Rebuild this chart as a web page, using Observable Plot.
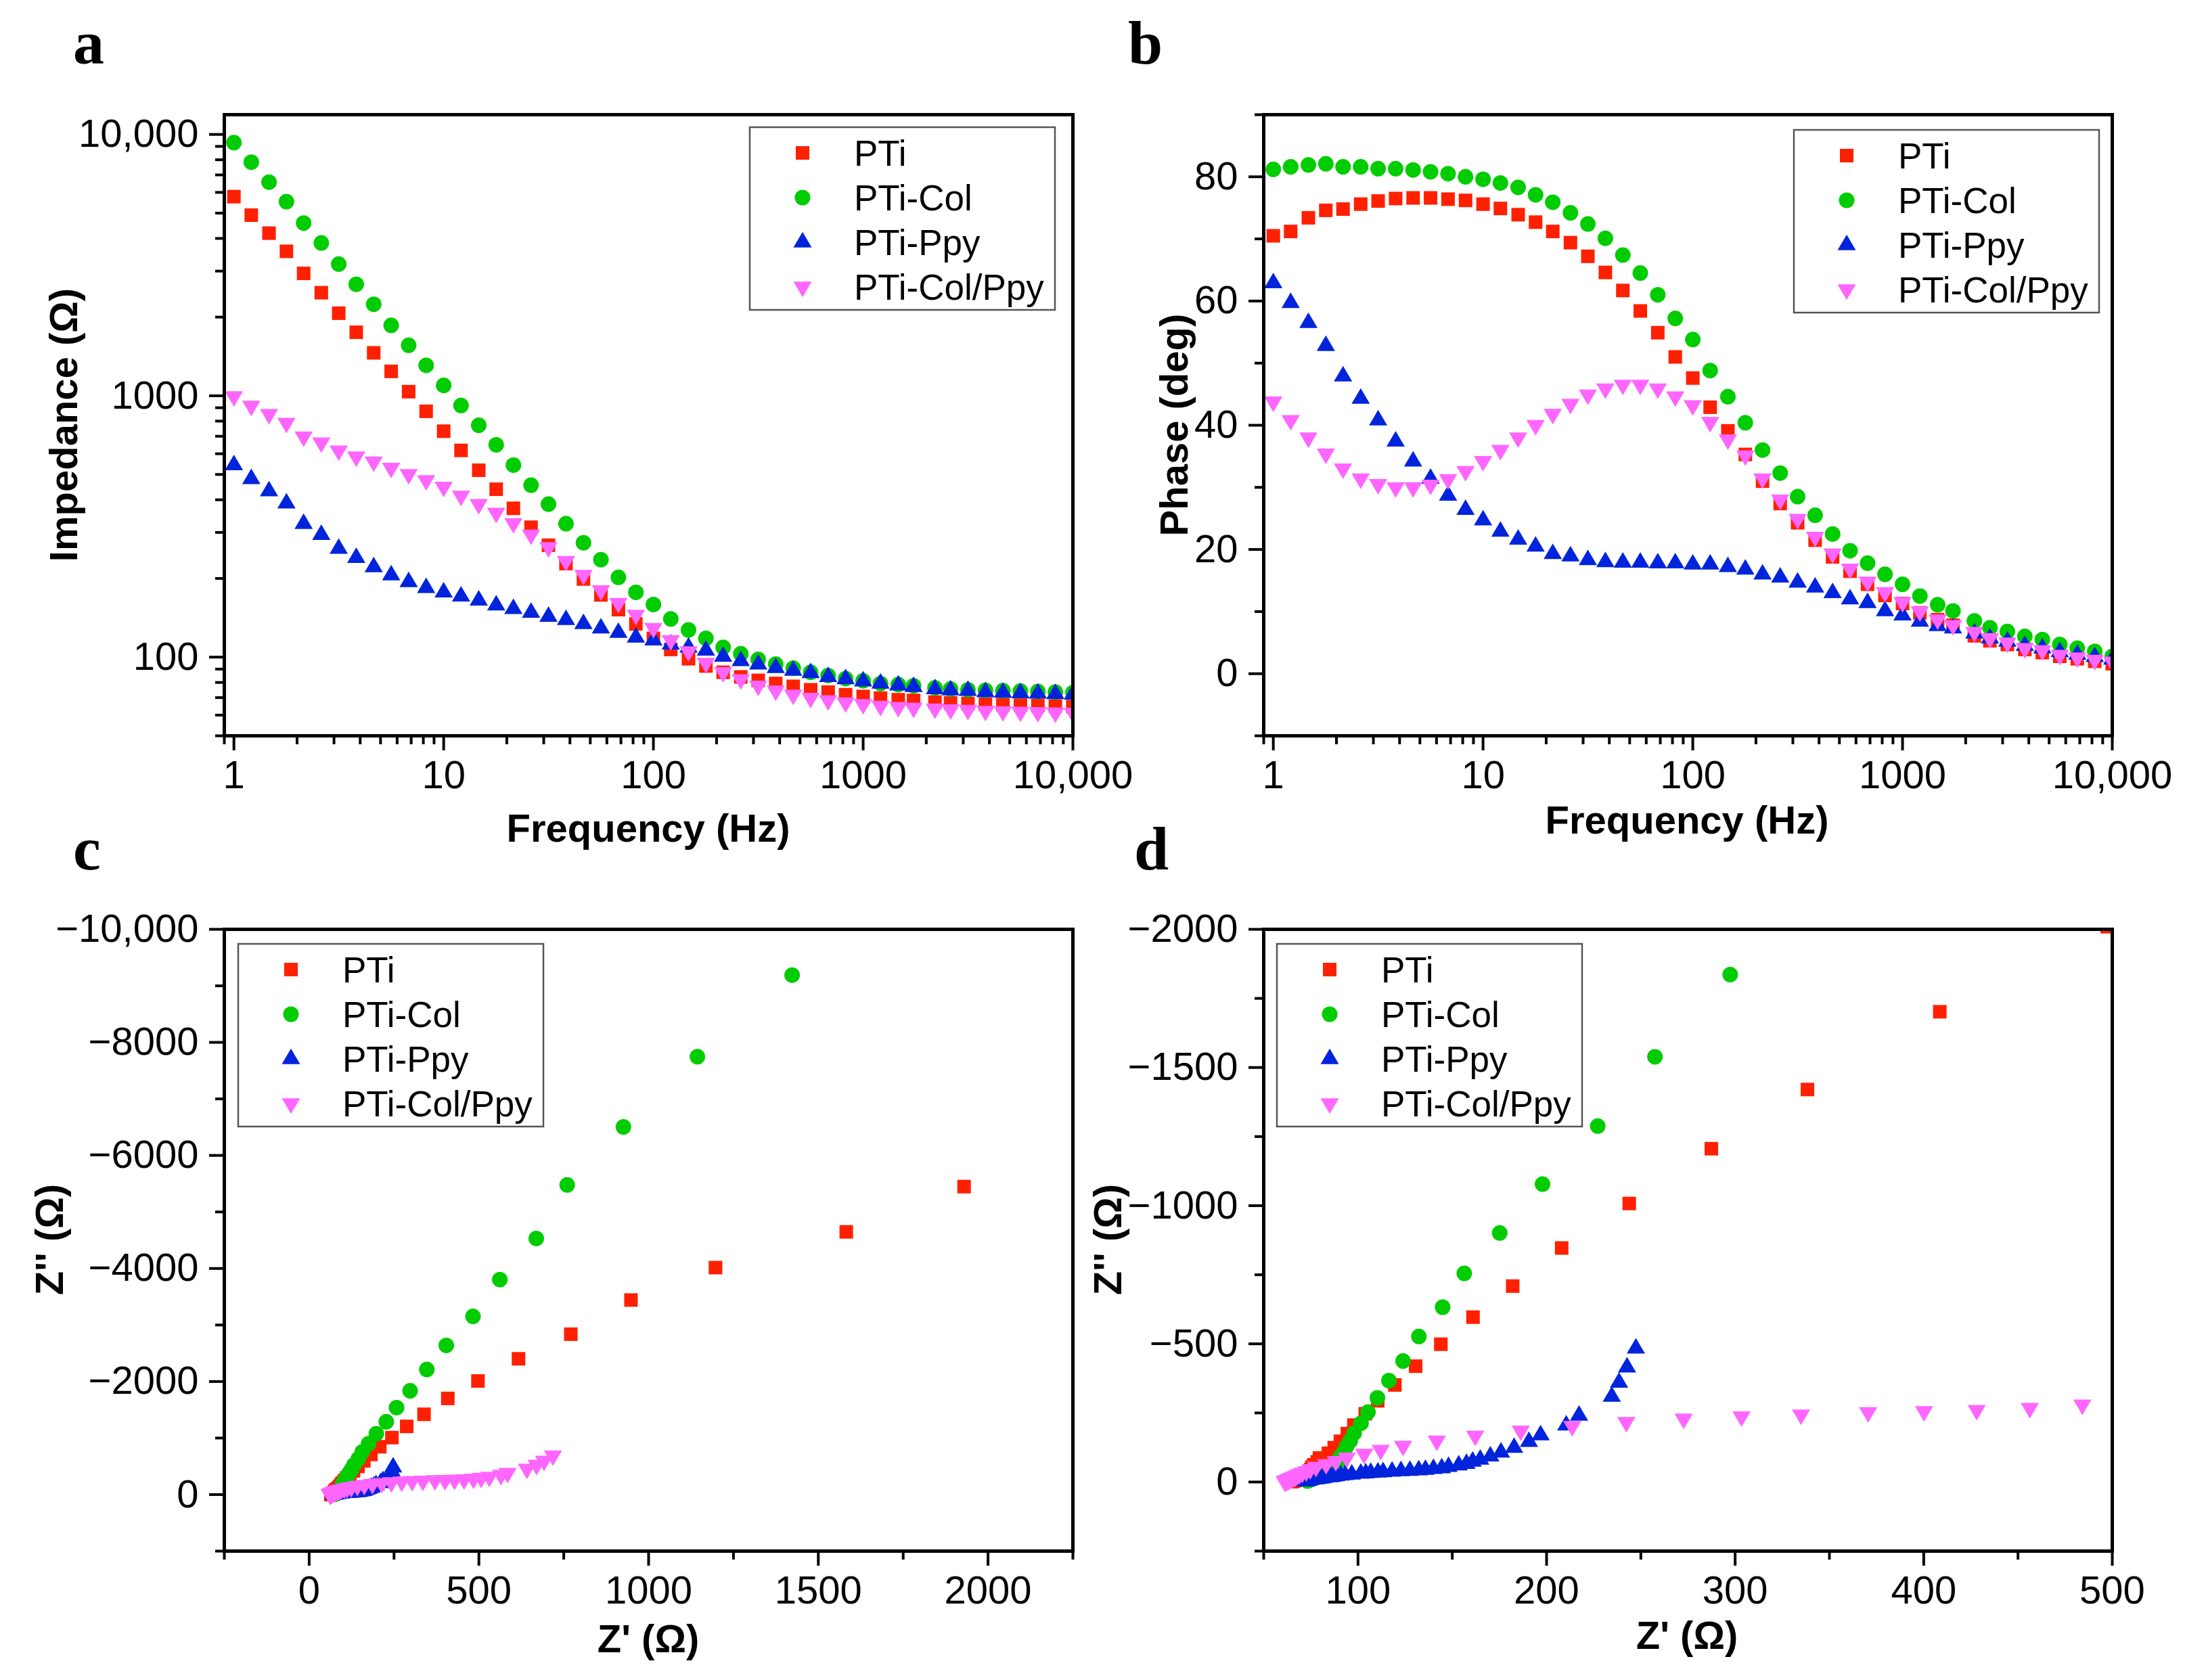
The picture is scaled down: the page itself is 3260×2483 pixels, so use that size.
<!DOCTYPE html>
<html><head><meta charset="utf-8">
<script src="https://cdn.jsdelivr.net/npm/d3@7"></script>
<script src="https://cdn.jsdelivr.net/npm/@observablehq/plot@0.6"></script>
<style>
body{margin:0;background:#fff;}
#wrap{position:relative;width:3260px;height:2483px;background:#fff;overflow:hidden;}
#wrap svg{position:absolute;}
</style></head><body><div id="wrap"></div>
<script>
// ---------------- data ----------------
const freq = [1,1.21,1.47,1.78,2.15,2.61,3.16,3.83,4.64,5.62,6.81,8.25,10,12.1,14.7,17.8,21.5,26.1,31.6,38.3,46.4,56.2,68.1,82.5,100,121,147,178,215,261,316,383,464,562,681,825,1000,1210,1470,1740,2200,2610,3160,3830,4640,5620,6810,8250,10000];
const seriesNames = ["PTi","PTi-Col","PTi-Ppy","PTi-Col/Ppy"];
const colors = ["#ff2000","#00cc00","#0024dc","#ff66ff"];

// |Z| (Ohm)
const magPTi = [5780,4910,4190,3570,2940,2480,2070,1750,1460,1240,1037,872,732,618,519,439,371,314,268,228,199,173,152,134,118,107,98.6,92.5,87.5,84,81.5,79.3,77.3,75,73.5,71.8,70.7,69.7,68.7,68.3,67.3,66.8,66.5,66,65.8,65.5,65.3,65,64.7];
const magCol = [9300,7830,6570,5530,4580,3845,3190,2670,2240,1860,1560,1308,1096,918,771,649,543,455,385,324,274,236,202,177,159,140,127,118,109,103,98,94,90.7,87.5,85,82.8,81.2,79.3,78.5,77.7,76.3,75.5,75.0,74.7,74.4,74.2,73.9,73.5,73.2];
const magPpy = [543,481,432,388,324,294,260,240,221,206,194,184,177,171,165,158,153,148,143,139,134,129,124,119,116,112,109,106,100.6,96.7,93.9,91,88.8,87,84.1,82.5,80.9,79.3,78,77,75.5,74.7,74.4,73.5,73.2,72.9,72.6,72.3,72.0];
const magColPpy = [995,914,850,787,697,662,616,585,559,529,501,475,448,414,385,356,325,294,263,233,206,180,161,145,129,116,105,95,87.5,82.2,77.7,74.4,71.8,69.7,68.3,67,66,65,64.4,64,63.5,63,62.7,62.2,62,61.7,61.5,61.3,61.2];

// phase (deg)
const phasePTi = [70.5,71.2,73.4,74.6,74.8,75.6,76.1,76.5,76.6,76.6,76.4,76.2,75.6,74.9,73.9,72.7,71.2,69.4,67.2,64.6,61.7,58.4,54.9,51.0,47.6,42.9,39.1,35.3,31.0,27.4,24.3,21.5,18.8,16.5,14.4,12.6,11.3,9.8,8.7,7.8,6.1,5.3,4.7,3.9,3.4,2.8,2.4,2.0,1.6];
const phaseCol = [81.2,81.6,81.9,82.1,81.6,81.6,81.3,81.3,81.1,80.8,80.5,80.0,79.6,79.0,78.3,77.1,75.9,74.2,72.4,70.1,67.4,64.5,61.0,57.2,53.8,48.8,44.6,40.4,36.0,32.3,28.5,25.5,22.5,19.8,17.8,16.0,14.4,12.5,11.1,10.1,8.5,7.4,6.8,6.0,5.5,4.7,4.1,3.6,2.8];
const phasePpy = [62.9,59.7,56.5,52.8,47.9,44.3,40.8,37.4,34.2,31.4,28.7,26.4,24.7,22.9,21.6,20.5,19.3,18.9,18.3,18.0,17.9,17.9,17.8,17.8,17.6,17.6,17.2,16.8,16.0,15.5,14.7,13.9,13.0,12.0,11.4,10.1,9.4,8.4,7.7,7.3,6.5,5.7,5.2,4.5,4.1,3.5,3.1,2.7,2.3];
const phaseColPpy = [43.8,40.8,38.0,35.4,33.0,31.4,30.5,30.0,30.0,30.4,31.3,32.6,34.2,36.0,38.0,40.0,41.8,43.4,44.9,45.9,46.5,46.5,45.9,44.6,43.2,40.5,37.7,35.1,31.4,28.0,24.9,22.0,19.3,16.9,14.8,13.1,11.5,10.0,8.7,7.8,6.7,5.7,5.0,4.1,3.75,3.0,2.6,2.2,1.9];

// ticks
const freqTicks = [1,10,100,1000,10000];
const freqMinor = [0.9,2,3,4,5,6,7,8,9,20,30,40,50,60,70,80,90,200,300,400,500,600,700,800,900,2000,3000,4000,5000,6000,7000,8000,9000];
const impTicks = [100,1000,10000];
const impMinor = [50,60,70,80,90,200,300,400,500,600,700,800,900,2000,3000,4000,5000,6000,7000,8000,9000];
const phaseTicks = [0,20,40,60,80];
const phaseMinor = [-10,10,30,50,70,90];
const cXTicks = [0,500,1000,1500,2000];
const cXMinor = [-250,250,750,1250,1750,2250];
const cYTicks = [-10000,-8000,-6000,-4000,-2000,0];
const cYMinor = [-9000,-7000,-5000,-3000,-1000,1000];
const dXTicks = [100,200,300,400,500];
const dXMinor = [50,150,250,350,450];
const dYTicks = [-2000,-1500,-1000,-500,0];
const dYMinor = [-1750,-1250,-750,-250,250];

// ---------------- helpers ----------------
const FONT = "'Liberation Sans', Arial, Helvetica, sans-serif";
const fmt = v => Math.abs(v) >= 10000 ? d3.format(",")(v) : d3.format("d")(v);

function sym(kind){
  return {draw(ctx, size){
    const r = Math.sqrt(size/Math.PI);
    if (kind === "square") { ctx.moveTo(-r,-r); ctx.lineTo(r,-r); ctx.lineTo(r,r); ctx.lineTo(-r,r); ctx.closePath(); }
    else if (kind === "circle") { const R = 1.15*r; ctx.moveTo(R,0); ctx.arc(0,0,R,0,2*Math.PI); }
    else if (kind === "up") { const w = 1.35*r, h = 2.3*r; ctx.moveTo(0,-2*h/3); ctx.lineTo(w,h/3); ctx.lineTo(-w,h/3); ctx.closePath(); }
    else { const w = 1.35*r, h = 2.3*r; ctx.moveTo(0,2*h/3); ctx.lineTo(w,-h/3); ctx.lineTo(-w,-h/3); ctx.closePath(); }
  }};
}
const symbols = [sym("square"), sym("circle"), sym("up"), sym("down")];

const mags = [magPTi, magCol, magPpy, magColPpy];
const phases = [phasePTi, phaseCol, phasePpy, phaseColPpy];
const bodeRows = mags.map((m, s) => freq.map((f, i) => ({f, z: m[i], p: phases[s][i]})));
const nyqRows = bodeRows.map(rows => rows.map(d => ({re: d.z*Math.cos(d.p*Math.PI/180), im: -d.z*Math.sin(d.p*Math.PI/180)})));

const wrap = document.getElementById("wrap");

function panel(cfg){
  const marks = [];
  cfg.rows.forEach((rows, i) => marks.push(Plot.dot(rows, {x: cfg.xk, y: cfg.yk, r: 10, symbol: symbols[i], fill: colors[i], clip: true})));
  marks.push(Plot.axisX({ticks: cfg.xMinor, tickSize: 13, tickFormat: () => "", strokeWidth: 4, label: null}));
  marks.push(Plot.axisX({ticks: cfg.xTicks, tickSize: 22, tickPadding: 14, tickFormat: fmt, strokeWidth: 4, label: null}));
  marks.push(Plot.axisY({ticks: cfg.yMinor, tickSize: 13, tickFormat: () => "", strokeWidth: 4, label: null}));
  marks.push(Plot.axisY({ticks: cfg.yTicks, tickSize: 22, tickPadding: 16, tickFormat: fmt, strokeWidth: 4, label: null}));
  marks.push(Plot.frame({stroke: "black", strokeWidth: 5}));
  const svg = Plot.plot({
    width: 1630, height: cfg.H,
    marginLeft: cfg.mL, marginRight: 1630 - cfg.mL - 1254, marginTop: cfg.mT, marginBottom: cfg.H - cfg.mT - cfg.ph,
    x: {type: cfg.xType, domain: cfg.xDomain},
    y: {type: cfg.yType, domain: cfg.yDomain},
    style: {fontFamily: FONT, fontSize: "58px", background: "none", overflow: "visible", maxWidth: "none", color: "black"},
    marks
  });
  svg.style.left = cfg.left + "px";
  svg.style.top = cfg.top + "px";
  svg.style.position = "absolute";
  wrap.appendChild(svg);
  const S = d3.select(svg);
  // axis titles
  S.append("text").attr("x", cfg.xt[0] - cfg.left).attr("y", cfg.xt[1] - cfg.top)
    .attr("text-anchor", "middle").attr("font-weight", "bold").attr("font-size", 58).attr("font-family", FONT).attr("fill", "black").text(cfg.xLabel);
  S.append("text").attr("transform", `translate(${cfg.yt[0] - cfg.left},${cfg.yt[1] - cfg.top}) rotate(-90)`)
    .attr("text-anchor", "middle").attr("font-weight", "bold").attr("font-size", 58).attr("font-family", FONT).attr("fill", "black").text(cfg.yLabel);
  // legend
  const lx = cfg.leg[0] - cfg.left, ly = cfg.leg[1] - cfg.top;
  const g = S.append("g");
  g.append("rect").attr("x", lx).attr("y", ly).attr("width", 451).attr("height", 270)
    .attr("fill", "white").attr("stroke", "#555").attr("stroke-width", 2.5);
  seriesNames.forEach((name, i) => {
    const cy = ly + 38 + i*66;
    g.append("path").attr("transform", `translate(${lx + 78},${cy})`)
      .attr("d", d3.symbol(symbols[i], Math.PI*100)()).attr("fill", colors[i]);
    g.append("text").attr("x", lx + 154).attr("y", cy).attr("dy", "0.36em").attr("text-anchor", "start")
      .attr("font-size", 53).attr("font-family", FONT).attr("fill", "black").text(name);
  });
}

// a
panel({left: 0, top: 0, H: 1290, mL: 331, mT: 169, ph: 918, rows: bodeRows, xk: "f", yk: "z",
  xType: "log", xDomain: [0.9, 10000], yType: "log", yDomain: [50, 11900],
  xTicks: freqTicks, xMinor: freqMinor, yTicks: impTicks, yMinor: impMinor,
  xLabel: "Frequency (Hz)", yLabel: "Impedance (Ω)", xt: [958, 1244], yt: [114, 628], leg: [1108, 188]});
// b
panel({left: 1630, top: 0, H: 1290, mL: 237, mT: 169, ph: 918, rows: bodeRows, xk: "f", yk: "p",
  xType: "log", xDomain: [0.9, 10000], yType: "linear", yDomain: [-10, 90],
  xTicks: freqTicks, xMinor: freqMinor, yTicks: phaseTicks, yMinor: phaseMinor,
  xLabel: "Frequency (Hz)", yLabel: "Phase (deg)", xt: [2493, 1232], yt: [1755, 628], leg: [2651, 192]});
// c
panel({left: 0, top: 1290, H: 1193, mL: 331, mT: 83, ph: 919, rows: nyqRows, xk: "re", yk: "im",
  xType: "linear", xDomain: [-250, 2250], yType: "linear", yDomain: [1000, -10000],
  xTicks: cXTicks, xMinor: cXMinor, yTicks: cYTicks, yMinor: cYMinor,
  xLabel: "Z' (Ω)", yLabel: "Z'' (Ω)", xt: [958, 2442], yt: [93, 1832], leg: [352, 1395]});
// d
panel({left: 1630, top: 1290, H: 1193, mL: 237, mT: 83, ph: 919, rows: nyqRows, xk: "re", yk: "im",
  xType: "linear", xDomain: [50, 500], yType: "linear", yDomain: [250, -2000],
  xTicks: dXTicks, xMinor: dXMinor, yTicks: dYTicks, yMinor: dYMinor,
  xLabel: "Z' (Ω)", yLabel: "Z'' (Ω)", xt: [2493, 2437], yt: [1657, 1832], leg: [1887, 1395]});

// panel letters
const ov = d3.select(wrap).append("svg").attr("width", 3260).attr("height", 2483)
  .style("left", "0px").style("top", "0px").style("pointer-events", "none");
[["a", 108, 94], ["b", 1667, 94], ["c", 108, 1285], ["d", 1676, 1285]].forEach(([t, x, y]) => {
  ov.append("text").attr("x", x).attr("y", y).attr("font-family", "'Liberation Serif', 'Times New Roman', serif")
    .attr("font-weight", "bold").attr("font-size", 92).attr("fill", "black").text(t);
});
</script>
</body></html>
